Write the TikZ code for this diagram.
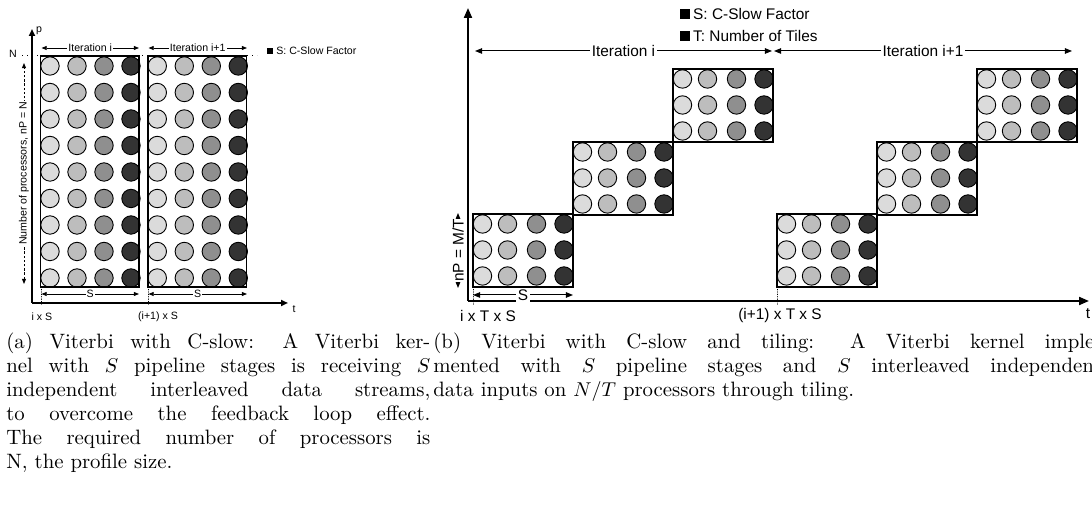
\documentclass[tikz,border=0pt]{standalone}
\usepackage{amsmath, amssymb}
\usepackage{fontspec}
\setsansfont{Liberation Sans}
\usepackage{tikz}
\usetikzlibrary{calc, arrows.meta, positioning}
\usepackage{tkz-euclide}

\definecolor{shadeA}{gray}{0.86}
\definecolor{shadeB}{gray}{0.74}
\definecolor{shadeC}{gray}{0.56}
\definecolor{shadeD}{gray}{0.2}

\tikzset{
  smalltxt/.style={font=\sffamily\fontsize{5.3}{6}\selectfont, inner sep=0.6pt},
  bigtxt/.style={font=\sffamily\fontsize{7.7}{9}\selectfont, inner sep=0.8pt},
  slot/.style={circle, draw=black, line width=0.45pt, minimum size=9.2pt, inner sep=0pt},
  tile/.style={draw=black, line width=0.75pt},
  axisA/.style={line width=0.9pt, -{Triangle[length=3.5pt, width=3pt]}},
  axisB/.style={line width=1pt, -{Triangle[length=5pt, width=4pt]}},
  spanA/.style={line width=0.4pt, {Triangle[length=2.6pt,width=2pt]}-{Triangle[length=2.6pt,width=2pt]}},
  spanB/.style={line width=0.5pt, {Triangle[length=3.6pt,width=2.8pt]}-{Triangle[length=3.6pt,width=2.8pt]}},
  tick/.style={densely dotted, line width=0.5pt},
  capt/.style={anchor=north west, inner sep=0pt, align=justify, font=\fontsize{10.4}{12}\selectfont},
}

\begin{document}
\begin{tikzpicture}[x=0.5pt, y=-0.5pt]
  \clip (0,0) rectangle (1092,506);

  % (a) C-slow
  \tkzDefPoints{32/303/O1, 32/29/P1, 288/303/T1, 22/56/Na, 257/56/Nb,
    24/63/Ua, 24/284/Ub, 41.5/48/Ia, 139/48/Ib, 148.5/48/Ic, 247/48/Id,
    41.5/294/Sa, 139/294/Sb, 148.5/294/Sc, 247/294/Sd,
    41/287/Ga, 41/306/Gb, 148/287/Gc, 148/306/Gd}
  \foreach \bx/\L in {1/40.7, 2/148}{
    \foreach \r in {0,...,8}
      \foreach \c/\dx/\col in {1/9.3/shadeA, 2/36.3/shadeB, 3/63.3/shadeC, 4/90.3/shadeD}
        \node[slot, fill=\col] (a\bx-\r-\c) at ({\L+\dx},{66+26.5*\r}) {};
    \draw[tile] (\L,56) rectangle ++(98.5,231);
  }
  \draw[axisA] (O1) -- (P1);
  \draw[axisA] (O1) -- (T1);
  \draw[dotted, line width=0.5pt] (Na) -- (Nb);
  \draw[spanA, dash pattern=on 1.2pt off 0.9pt] (Ub) -- (Ua) node[midway, sloped, fill=white, smalltxt] {Number of processors, nP = N};
  \draw[spanA] (Ia) -- (Ib) node[midway, fill=white, smalltxt] {Iteration i};
  \draw[spanA] (Ic) -- (Id) node[midway, fill=white, smalltxt] {Iteration i+1};
  \draw[spanA] (Sa) -- (Sb) node[midway, fill=white, smalltxt] {S};
  \draw[spanA] (Sc) -- (Sd) node[midway, fill=white, smalltxt] {S};
  \tkzDrawSegments[tick](Ga,Gb Gc,Gd)
  \node[fill=black, minimum size=2.7pt, inner sep=0pt] (lgA) at (270,51) {};
  \node[smalltxt, right=0.8pt of lgA] (lgAt) {S: C-Slow Factor};
  \node[smalltxt] (pA) at (39,31) {p};
  \node[smalltxt] (tA) at (294,309) {t};
  \node[smalltxt] (nA) at (13,54) {N};
  \node[smalltxt] (ixs) at (42,317) {i x S};
  \node[smalltxt] (i1xs) at (158,317) {(i+1) x S};

  % (b) C-slow and tiling
  \tkzDefPoints{468/301/O2, 468/8/P2, 1089/301/T2, 475/51/Ja, 772/51/Jb,
    774/51/Jc, 1072/51/Jd, 458/288/Ma, 458/213/Mb, 473/295/Ra, 573/295/Rb,
    473/287/Ha, 473/306/Hb, 777/287/Hc, 777/306/Hd}
  \foreach \k/\L/\T in {1/473/214, 2/573/142, 3/673/69, 4/777/214, 5/877/142, 6/977/69}{
    \foreach \r/\dy in {0/10, 1/36, 2/62}
      \foreach \c/\dx/\col in {1/9.5/shadeA, 2/34.5/shadeB, 3/63.5/shadeC, 4/91/shadeD}
        \node[slot, fill=\col] (b\k-\r-\c) at ({\L+\dx},{\T+\dy}) {};
    \draw[tile] (\L,\T) rectangle ++(100,73);
  }
  \draw[axisB] (O2) -- (P2);
  \draw[axisB] (O2) -- (T2);
  \draw[spanB] (Ja) -- (Jb) node[midway, fill=white, bigtxt] {Iteration i};
  \draw[spanB] (Jc) -- (Jd) node[midway, fill=white, bigtxt] {Iteration i+1};
  \draw[spanB] (Ma) -- (Mb) node[midway, sloped, fill=white, bigtxt, inner sep=0pt] {nP = M/T};
  \draw[spanB] (Ra) -- (Rb) node[midway, fill=white, bigtxt] {S};
  \tkzDrawSegments[tick](Ha,Hb Hc,Hd)
  \node[fill=black, minimum size=4.6pt, inner sep=0pt] (lgB) at (685,14) {};
  \node[bigtxt, right=0.6pt of lgB] (lgBt) {S: C-Slow Factor};
  \node[fill=black, minimum size=4.6pt, inner sep=0pt] (lgC) at (685,36) {};
  \node[bigtxt, right=0.6pt of lgC] (lgCt) {T: Number of Tiles};
  \node[bigtxt] (tB) at (1088,314) {t};
  \node[bigtxt] (ixts) at (488,316) {i x T x S};
  \node[bigtxt] (i1xts) at (780,316) {(i+1) x T x S};

  % captions
  \node[capt, text width=212pt] (capA) at (6,333) {(a) Viterbi with C-slow: A Viterbi ker-\linebreak nel with $S$ pipeline stages is receiving $S$\linebreak independent interleaved data streams,\linebreak to overcome the feedback loop effect.\linebreak The required number of processors is\linebreak N, the profile size.};
  \node[capt, text width=334pt] (capB) at (433,333) {(b) Viterbi with C-slow and tiling: A Viterbi kernel imple-\linebreak mented with $S$ pipeline stages and $S$ interleaved independent\linebreak data inputs on $N/T$ processors through tiling.};
\end{tikzpicture}
\end{document}
